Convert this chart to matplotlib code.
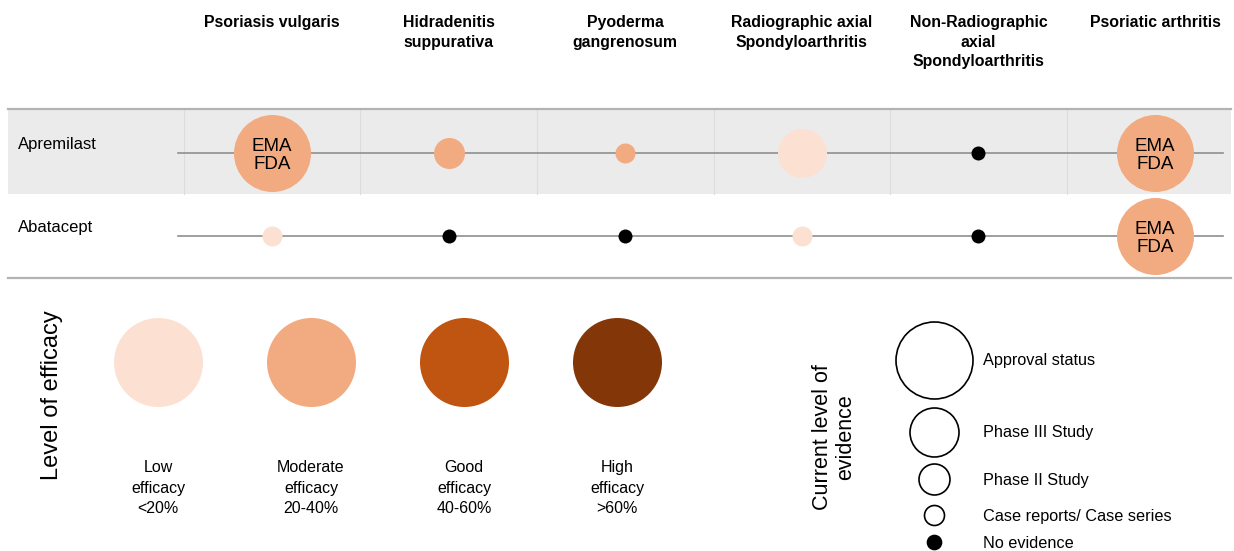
import numpy as np
import matplotlib.pyplot as plt

plt.rcParams['font.family'] = ['Liberation Sans', 'DejaVu Sans']

diseases = ['Psoriasis vulgaris', 'Hidradenitis\nsuppurativa', 'Pyoderma\ngangrenosum',
            'Radiographic axial\nSpondyloarthritis', 'Non-Radiographic\naxial\nSpondyloarthritis',
            'Psoriatic arthritis']
drugs = ['Apremilast', 'Abatacept']

# efficacy: 0 low, 1 moderate, 2 good, 3 high, -1 none
efficacy = [[1, 1, 1, 0, -1, 1],
            [0, -1, -1, 0, -1, 1]]
# evidence: 4 approval, 3 phase III, 2 phase II, 1 case reports, 0 no evidence
evidence = [[4, 2, 1, 3, 0, 4],
            [1, 0, 0, 1, 0, 4]]
approval_text = [['EMA\nFDA', '', '', '', '', 'EMA\nFDA'],
                 ['', '', '', '', '', 'EMA\nFDA']]

eff_colors = ['#fce1d3', '#f2ab80', '#c05411', '#833708']
eff_labels = ['Low\nefficacy\n<20%', 'Moderate\nefficacy\n20-40%',
              'Good\nefficacy\n40-60%', 'High\nefficacy\n>60%']
ev_labels = ['Approval status', 'Phase III Study', 'Phase II Study',
             'Case reports/ Case series', 'No evidence']
ev_diam = [77, 49, 31, 20, 14]   # marker diameter in pixels, by evidence level 4..0

W, H = 1234, 551
fig = plt.figure(figsize=(W / 100, H / 100), dpi=100)


def size(d_px):
    return (d_px * 0.72) ** 2


# --- matrix part: x = column index, y = row index
top_h = 300
ax = fig.add_axes([0, 1 - top_h / H, 1, top_h / H])
colw, x0 = 176.6, 272
rowh, y0 = 83, 153
ax.set_xlim(-x0 / colw, (W - x0) / colw)
ax.set_ylim((top_h - y0) / rowh, -y0 / rowh)
ax.axis('off')

px = lambda p: (p - x0) / colw
xl, xr = px(8), px(1231)
ax.fill_between([xl, xr], -0.53, 0.49, color='#ebebeb', lw=0, zorder=0)
for i in range(len(diseases)):
    ax.plot([i - 0.5, i - 0.5], [-0.53, 0.49], color='#dcdcdc', lw=0.8, zorder=0.5)
ax.plot([xl, xr], [-0.53, -0.53], color='#b3b3b3', lw=1.6, zorder=1)
ax.plot([xl, xr], [1.5, 1.5], color='#b3b3b3', lw=1.6, zorder=1)

for i, name in enumerate(diseases):
    ax.text(i, (15 - y0) / rowh, name, ha='center', va='top', fontsize=11.4,
            fontweight='bold', linespacing=1.38)

for r, drug in enumerate(drugs):
    ax.plot([px(178), px(1223)], [r, r], color='#8f8f8f', lw=1.2, zorder=1)
    ax.text(px(18), r - 0.1, drug, ha='left', va='center', fontsize=12)
    for c in range(len(diseases)):
        e = efficacy[r][c]
        col = 'black' if e < 0 else eff_colors[e]
        ax.scatter(c, r, s=size(ev_diam[4 - evidence[r][c]]), color=col,
                   lw=0, zorder=3)
        if approval_text[r][c]:
            ax.text(c, r + 0.03, approval_text[r][c], ha='center', va='center',
                    fontsize=13.5, linespacing=1.15, zorder=4)

# --- legends, in pixel units
lg = fig.add_axes([0, 0, 1, (H - top_h) / H])
lg.set_xlim(0, W)
lg.set_ylim(H, top_h)
lg.axis('off')

lg.text(52, 395, 'Level of efficacy', rotation=90, ha='center', va='center',
        fontsize=17)
for i, (c, lab) in enumerate(zip(eff_colors, eff_labels)):
    x = 158 + 153 * i
    lg.scatter(x, 362, s=size(89), color=c, lw=0)
    lg.text(x, 488, lab, ha='center', va='center', fontsize=11.5, linespacing=1.45)

lg.text(834, 437, 'Current level of\nevidence', rotation=90, ha='center',
        va='center', fontsize=15.5, linespacing=1.15)
ev_y = [360, 432, 479, 515, 542]
for d, y, lab in zip(ev_diam, ev_y, ev_labels):
    filled = lab == 'No evidence'
    lg.scatter(934, y, s=size(d), facecolor='black' if filled else 'white',
               edgecolor='black', lw=1.2)
    lg.text(983, y + 1, lab, ha='left', va='center', fontsize=11.7)

fig.savefig('out.png', dpi=100)
